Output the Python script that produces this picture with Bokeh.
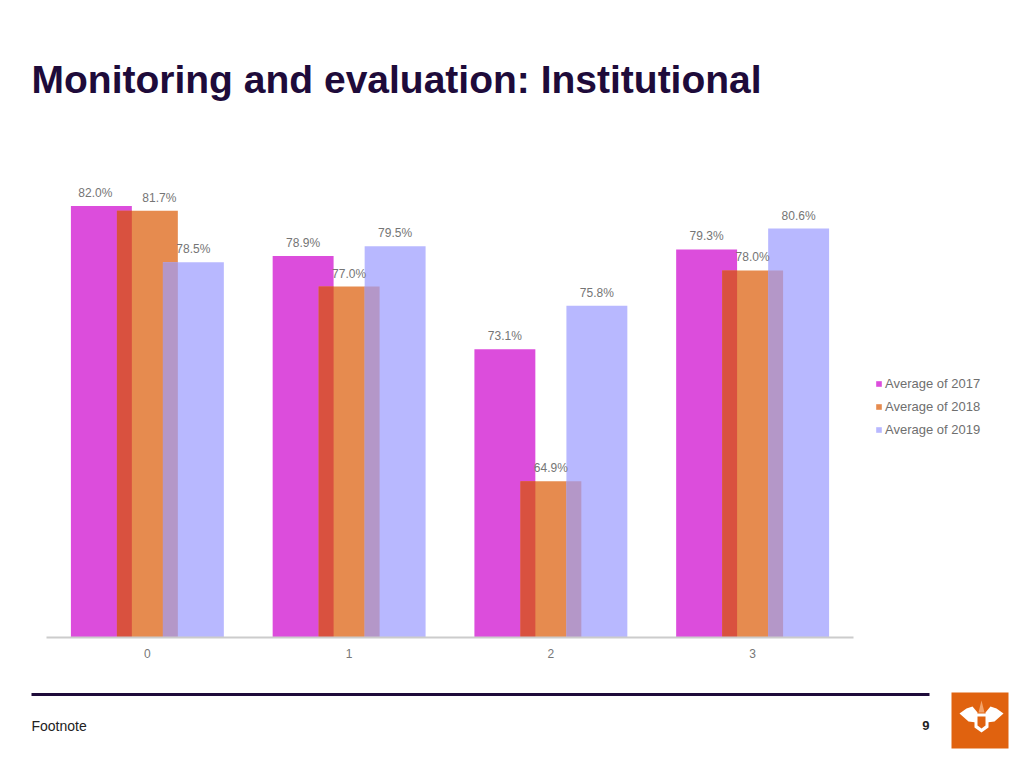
from bokeh.plotting import figure
from bokeh.models import (ColumnDataSource, Label, BoxAnnotation,
                          PolyAnnotation, Legend, LegendItem, Range1d)
from bokeh.transform import dodge
from bokeh.embed import file_html
from bokeh.resources import INLINE

# ---- data ----
categories = ["0", "1", "2", "3"]
avg_2017 = [82.0, 78.9, 73.1, 79.3]
avg_2018 = [81.7, 77.0, 64.9, 78.0]
avg_2019 = [78.5, 79.5, 75.8, 80.6]
series_names = ["Average of 2017", "Average of 2018", "Average of 2019"]
title_text = "Monitoring and evaluation: Institutional"
footnote_text = "Footnote"
page_number = "9"

# ---- styles / layout ----
W, H = 1024, 768
C17 = "#dc4ddc"
C18 = "#e68b4f"
C19 = "#b8b8ff"
C17_18 = "#d9513f"
C18_19 = "#b497c8"
DARK = "#1e0b3a"
LABEL_COL = "#757575"
FONT = "Liberation Sans"

BW = 0.302   # bar width (category units)
OFF = 0.228  # dodge offset
BASE = 55.2  # value at chart baseline
PLOT_L, PLOT_R, PLOT_B = 46, 853, 637   # plot area in page pixels
PX_PER_UNIT_Y = 16.1
# small label nudges (px) the source chart used to avoid collisions
NUDGE_17 = [-6, 0, 0, 0]
NUDGE_18 = [12, 0, 0, 0]
NUDGE_19 = [0, 0, 0, 0]

n = len(categories)
px_x = (PLOT_R - PLOT_L) / n
x_start = -0.5 - PLOT_L / px_x
x_end = n - 0.5 + (W - PLOT_R) / px_x
y_start = BASE - (H - PLOT_B) / PX_PER_UNIT_Y
y_end = BASE + PLOT_B / PX_PER_UNIT_Y

xs = list(range(n))
src = ColumnDataSource(dict(
    x=xs, cat=categories,
    v17=avg_2017, v18=avg_2018, v19=avg_2019,
    o1=[min(a, b) for a, b in zip(avg_2017, avg_2018)],
    o2=[min(a, b) for a, b in zip(avg_2018, avg_2019)],
    l17=[f"{v:.1f}%" for v in avg_2017],
    l18=[f"{v:.1f}%" for v in avg_2018],
    l19=[f"{v:.1f}%" for v in avg_2019],
    n17=NUDGE_17, n18=NUDGE_18, n19=NUDGE_19,
    base=[BASE] * n,
))

p = figure(width=W, height=H,
           x_range=Range1d(x_start, x_end), y_range=Range1d(y_start, y_end),
           output_backend="svg", toolbar_location=None, min_border=0)
p.outline_line_color = None
p.grid.visible = False
p.axis.visible = False
p.background_fill_color = "white"
p.border_fill_color = "white"

r17 = p.vbar(x=dodge("x", -OFF), top="v17", bottom=BASE, width=BW, source=src,
             fill_color=C17, line_color=None)
r18 = p.vbar(x="x", top="v18", bottom=BASE, width=BW, source=src,
             fill_color=C18, line_color=None)
r19 = p.vbar(x=dodge("x", OFF), top="v19", bottom=BASE, width=BW, source=src,
             fill_color=C19, line_color=None)
p.vbar(x=dodge("x", -OFF / 2), top="o1", bottom=BASE, width=BW - OFF, source=src,
       fill_color=C17_18, line_color=None)
p.vbar(x=dodge("x", OFF / 2), top="o2", bottom=BASE, width=BW - OFF, source=src,
       fill_color=C18_19, line_color=None)

for off, lab, ycol, ncol in ((-OFF, "l17", "v17", "n17"), (0, "l18", "v18", "n18"),
                             (OFF, "l19", "v19", "n19")):
    p.text(x=dodge("x", off), y=ycol, text=lab, source=src,
           text_align="center", text_baseline="bottom", y_offset=-6, x_offset=ncol,
           text_font_size="12px", text_color=LABEL_COL,
           text_font={"value": FONT})

# category axis: baseline line and tick labels
p.segment(x0=-0.5, x1=n - 0.5, y0=BASE, y1=BASE, line_color="#cccccc", line_width=2)
p.text(x="x", y="base", text="cat", source=src, text_align="center",
       text_baseline="top", y_offset=11, text_font_size="12px",
       text_color="#777777", text_font={"value": FONT})

# legend (tuple location = lower-left corner, screen px from bottom-left)
legend = Legend(items=[LegendItem(label=nm, renderers=[r])
                       for nm, r in zip(series_names, (r17, r18, r19))],
                location=(875, H - 439), margin=0, padding=0,
                border_line_color=None, background_fill_alpha=0,
                glyph_width=7, glyph_height=7, label_height=20, spacing=3,
                label_standoff=3, label_text_font_size="13px",
                label_text_color="#6f6f6f", label_text_font=FONT)
p.add_layout(legend, "center")


def sy(py):
    return H - py


p.add_layout(Label(x=31, y=sy(79), x_units="screen", y_units="screen",
                   text=title_text, text_font=FONT,
                   text_font_style="bold", text_font_size="39px",
                   text_color=DARK, text_baseline="alphabetic"))

p.add_layout(BoxAnnotation(left=31, right=929, bottom=sy(695.5), top=sy(692.5),
                           left_units="screen", right_units="screen",
                           bottom_units="screen", top_units="screen",
                           fill_color=DARK, fill_alpha=1, line_color=None))

p.add_layout(Label(x=31, y=sy(725), x_units="screen", y_units="screen",
                   text=footnote_text, text_font=FONT, text_font_size="14px",
                   text_color="#222222", text_baseline="middle"))
p.add_layout(Label(x=929, y=sy(725), x_units="screen", y_units="screen",
                   text=page_number, text_font=FONT, text_font_size="13px",
                   text_font_style="bold", text_color="#222222",
                   text_baseline="middle", text_align="right"))

# logo
p.add_layout(BoxAnnotation(left=951, right=1008, bottom=sy(748), top=sy(692),
                           left_units="screen", right_units="screen",
                           bottom_units="screen", top_units="screen",
                           fill_color="#e0620f", fill_alpha=1, line_color=None))


def poly(pts, color):
    p.add_layout(PolyAnnotation(xs=[a for a, b in pts], ys=[sy(b) for a, b in pts],
                                xs_units="screen", ys_units="screen",
                                fill_color=color, fill_alpha=1, line_color=None))


left_wing = [(959, 713), (966, 708), (972, 706), (977, 712), (976, 722), (968, 721)]
poly(left_wing, "white")
poly([(1962 - a, b) for a, b in left_wing], "white")
poly([(974, 713), (988, 713), (988, 727), (981, 732), (974, 727)], "white")
poly([(977, 716), (985, 716), (985, 725), (981, 728), (977, 725)], "#e0620f")
poly([(978, 712), (981, 700), (984, 712)], "#f3a36a")

open("out.html", "w").write(file_html(p, INLINE))
